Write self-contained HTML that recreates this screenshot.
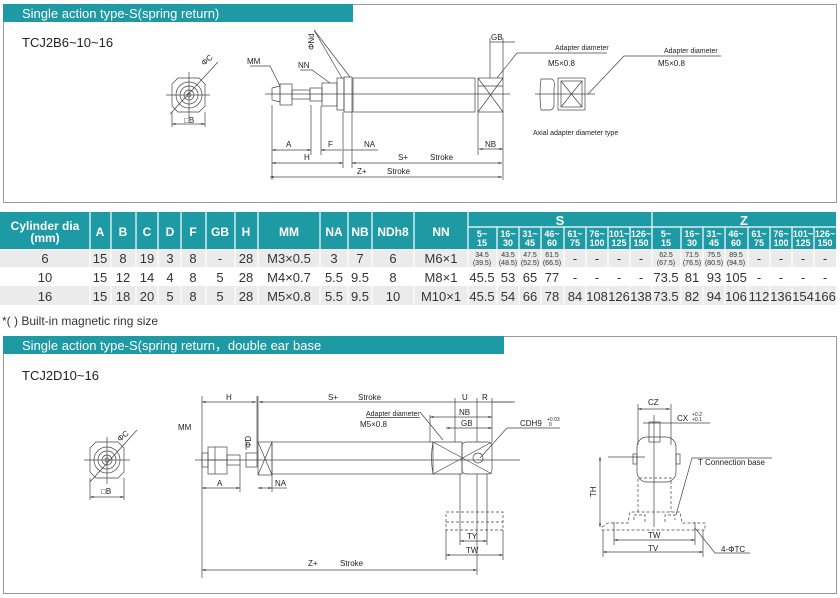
<!DOCTYPE html>
<html><head><meta charset="utf-8"><style>
html,body{margin:0;padding:0;background:#fff;}
svg{display:block;font-family:"Liberation Sans",Arial,sans-serif;}
</style></head><body>
<svg width="840" height="598" viewBox="0 0 840 598" xmlns="http://www.w3.org/2000/svg">
<defs>
<marker id="a" viewBox="0 0 10 10" refX="10" refY="5" markerWidth="5" markerHeight="5" orient="auto-start-reverse"><path d="M0,2 L10,5 L0,8 z" fill="#333"/></marker>
</defs>
<!-- Frame 1 -->
<rect x="3.5" y="4.5" width="833" height="198" fill="none" stroke="#999" stroke-width="1"/>
<rect x="3" y="4" width="350" height="18" fill="#1e9aa4"/>
<text x="22" y="18" font-size="13" fill="#fff">Single action type-S(spring return)</text>
<text x="22" y="47" font-size="13" fill="#222">TCJ2B6~10~16</text>

<g stroke="#444" stroke-width="0.7" fill="none">
<!-- end view top -->
<path d="M178,78 L199,78 L205,84 L205,106 L199,112 L178,112 L172,106 L172,84 Z"/>
<circle cx="189" cy="95" r="13"/><circle cx="189" cy="95" r="9"/><circle cx="189" cy="95" r="5"/><circle cx="189" cy="95" r="2"/>
<line x1="166" y1="95" x2="210" y2="95"/><line x1="189" y1="72" x2="189" y2="118"/>
<line x1="170" y1="114" x2="218" y2="62"/>
<line x1="172" y1="112" x2="172" y2="127"/><line x1="205" y1="112" x2="205" y2="127"/>
<line x1="172" y1="124" x2="205" y2="124" marker-start="url(#a)" marker-end="url(#a)"/>
<!-- rod top -->
<line x1="265" y1="94" x2="510" y2="94"/>
<path d="M272,88 L280,86 L280,102 L272,100 Z"/>
<rect x="280" y="84" width="12" height="21"/>
<rect x="292" y="90" width="18" height="9"/>
<rect x="310" y="88" width="12" height="13"/>
<rect x="322" y="83" width="15" height="23"/>
<rect x="337" y="78" width="7" height="32"/>
<rect x="344" y="77" width="8" height="35"/>
<rect x="353" y="78" width="122" height="34"/>
<rect x="478" y="78" width="25" height="34"/>
<line x1="478" y1="78" x2="503" y2="112"/><line x1="503" y1="78" x2="478" y2="112"/>
<line x1="478" y1="86" x2="503" y2="86"/>
<!-- leaders -->
<polyline points="250,66 270,66 280,86"/>
<polyline points="300,70 312,70 330,83"/>
<line x1="314" y1="30" x2="342" y2="78"/><line x1="314" y1="30" x2="350" y2="77"/>
<!-- dims top -->
<line x1="272" y1="105" x2="272" y2="180"/><line x1="311" y1="105" x2="311" y2="155"/>
<line x1="321" y1="106" x2="321" y2="155"/><line x1="343" y1="112" x2="343" y2="168"/>
<line x1="352" y1="112" x2="352" y2="168"/><line x1="503" y1="112" x2="503" y2="180"/>
<line x1="478" y1="112" x2="478" y2="155"/>
<line x1="272" y1="150" x2="311" y2="150" marker-start="url(#a)" marker-end="url(#a)"/>
<line x1="321" y1="150" x2="342" y2="150" marker-start="url(#a)"/>
<line x1="343" y1="150" x2="378" y2="150"/>
<line x1="272" y1="163" x2="343" y2="163" marker-start="url(#a)" marker-end="url(#a)"/>
<line x1="352" y1="163" x2="502" y2="163" marker-start="url(#a)" marker-end="url(#a)"/>
<line x1="270" y1="177" x2="502" y2="177" marker-start="url(#a)" marker-end="url(#a)"/>
<line x1="479" y1="149" x2="503" y2="149" marker-start="url(#a)" marker-end="url(#a)"/>
<line x1="490" y1="38" x2="490" y2="78"/><line x1="503" y1="38" x2="503" y2="78"/>
<line x1="490" y1="42" x2="515" y2="42"/>
<polyline points="497,78 517,53 607,53"/>
<!-- axial adapter -->
<line x1="535" y1="94" x2="595" y2="94"/>
<path d="M541,79 L552,79 Q556,82 554,88 L554,106 Q553,110 550,110 L541,110 Q539,95 541,79 Z"/>
<rect x="558" y="78" width="27" height="32"/><rect x="561" y="81" width="21" height="26"/>
<line x1="561" y1="81" x2="582" y2="107"/><line x1="582" y1="81" x2="561" y2="107"/>
<polyline points="588,94 624,56 721,56"/>
</g>
<g font-size="8" fill="#222">
<text x="247" y="64">MM</text><text x="298" y="68">NN</text>
<text x="314" y="50" transform="rotate(-90 314 50)">ΦNd</text>
<text x="286" y="147">A</text><text x="328" y="147">F</text><text x="364" y="147">NA</text>
<text x="304" y="160">H</text><text x="398" y="160">S+</text><text x="430" y="160">Stroke</text>
<text x="357" y="174">Z+</text><text x="387" y="174">Stroke</text>
<text x="485" y="147">NB</text><text x="491" y="40">GB</text>
<text x="204" y="66" transform="rotate(-40 204 66)">ΦC</text>
<text x="184" y="123">□B</text>
<text x="555" y="50" font-size="7">Adapter diameter</text>
<text x="548" y="66">M5×0.8</text>
<text x="664" y="53" font-size="7">Adapter diameter</text>
<text x="658" y="66">M5×0.8</text>
<text x="533" y="135" font-size="7">Axial adapter diameter type</text>
</g>

<!-- Table -->
<rect x="0" y="212" width="836" height="37" fill="#1e9aa4"/>
<rect x="0" y="249" width="836" height="18" fill="#ebebeb"/>
<rect x="0" y="286" width="836" height="19" fill="#ebebeb"/>
<g stroke="#fff" stroke-width="1.2">
<line x1="90" y1="212" x2="90" y2="305"/><line x1="111" y1="212" x2="111" y2="305"/>
<line x1="136" y1="212" x2="136" y2="305"/><line x1="158" y1="212" x2="158" y2="305"/>
<line x1="181" y1="212" x2="181" y2="305"/><line x1="206" y1="212" x2="206" y2="305"/>
<line x1="235" y1="212" x2="235" y2="305"/><line x1="258" y1="212" x2="258" y2="305"/>
<line x1="320" y1="212" x2="320" y2="305"/><line x1="348" y1="212" x2="348" y2="305"/>
<line x1="372" y1="212" x2="372" y2="305"/><line x1="414" y1="212" x2="414" y2="305"/>
<line x1="468" y1="212" x2="468" y2="305"/><line x1="652" y1="212" x2="652" y2="305"/>
<line x1="468" y1="227" x2="836" y2="227"/>
<line x1="497" y1="227" x2="497" y2="305"/><line x1="519" y1="227" x2="519" y2="305"/>
<line x1="541" y1="227" x2="541" y2="305"/><line x1="564" y1="227" x2="564" y2="305"/>
<line x1="586" y1="227" x2="586" y2="305"/><line x1="608" y1="227" x2="608" y2="305"/>
<line x1="630" y1="227" x2="630" y2="305"/>
<line x1="681" y1="227" x2="681" y2="305"/><line x1="703" y1="227" x2="703" y2="305"/>
<line x1="725" y1="227" x2="725" y2="305"/><line x1="748" y1="227" x2="748" y2="305"/>
<line x1="770" y1="227" x2="770" y2="305"/><line x1="792" y1="227" x2="792" y2="305"/>
<line x1="814" y1="227" x2="814" y2="305"/>
</g>
<g font-size="12" font-weight="bold" fill="#fff" text-anchor="middle">
<text x="45" y="230">Cylinder dia</text><text x="45" y="242">(mm)</text>
<text x="100" y="236">A</text><text x="123" y="236">B</text><text x="147" y="236">C</text>
<text x="170" y="236">D</text><text x="193" y="236">F</text><text x="220" y="236">GB</text>
<text x="246" y="236">H</text><text x="289" y="236">MM</text><text x="334" y="236">NA</text>
<text x="360" y="236">NB</text><text x="393" y="236">NDh8</text><text x="441" y="236">NN</text>
<text x="560" y="225" font-size="13">S</text><text x="744" y="225" font-size="13">Z</text>
</g>
<g font-size="9" font-weight="bold" fill="#fff" text-anchor="middle">
<text x="482" y="237">5~</text><text x="482" y="246">15</text>
<text x="508" y="237">16~</text><text x="508" y="246">30</text>
<text x="530" y="237">31~</text><text x="530" y="246">45</text>
<text x="552" y="237">46~</text><text x="552" y="246">60</text>
<text x="575" y="237">61~</text><text x="575" y="246">75</text>
<text x="597" y="237">76~</text><text x="597" y="246">100</text>
<text x="619" y="237">101~</text><text x="619" y="246">125</text>
<text x="641" y="237">126~</text><text x="641" y="246">150</text>
<text x="666" y="237">5~</text><text x="666" y="246">15</text>
<text x="692" y="237">16~</text><text x="692" y="246">30</text>
<text x="714" y="237">31~</text><text x="714" y="246">45</text>
<text x="736" y="237">46~</text><text x="736" y="246">60</text>
<text x="759" y="237">61~</text><text x="759" y="246">75</text>
<text x="781" y="237">76~</text><text x="781" y="246">100</text>
<text x="803" y="237">101~</text><text x="803" y="246">125</text>
<text x="825" y="237">126~</text><text x="825" y="246">150</text>
</g>
<g font-size="13" fill="#333" text-anchor="middle">
<text x="45" y="263">6</text><text x="100" y="263">15</text><text x="123" y="263">8</text><text x="147" y="263">19</text><text x="170" y="263">3</text><text x="193" y="263">8</text><text x="220" y="263">-</text><text x="246" y="263">28</text><text x="289" y="263">M3×0.5</text><text x="334" y="263">3</text><text x="360" y="263">7</text><text x="393" y="263">6</text><text x="441" y="263">M6×1</text>
<text x="575" y="263">-</text><text x="597" y="263">-</text><text x="619" y="263">-</text><text x="641" y="263">-</text>
<text x="759" y="263">-</text><text x="781" y="263">-</text><text x="803" y="263">-</text><text x="825" y="263">-</text>
<text x="45" y="282">10</text><text x="100" y="282">15</text><text x="123" y="282">12</text><text x="147" y="282">14</text><text x="170" y="282">4</text><text x="193" y="282">8</text><text x="220" y="282">5</text><text x="246" y="282">28</text><text x="289" y="282">M4×0.7</text><text x="334" y="282">5.5</text><text x="360" y="282">9.5</text><text x="393" y="282">8</text><text x="441" y="282">M8×1</text>
<text x="482" y="282">45.5</text><text x="508" y="282">53</text><text x="530" y="282">65</text><text x="552" y="282">77</text><text x="575" y="282">-</text><text x="597" y="282">-</text><text x="619" y="282">-</text><text x="641" y="282">-</text>
<text x="666" y="282">73.5</text><text x="692" y="282">81</text><text x="714" y="282">93</text><text x="736" y="282">105</text><text x="759" y="282">-</text><text x="781" y="282">-</text><text x="803" y="282">-</text><text x="825" y="282">-</text>
<text x="45" y="301">16</text><text x="100" y="301">15</text><text x="123" y="301">18</text><text x="147" y="301">20</text><text x="170" y="301">5</text><text x="193" y="301">8</text><text x="220" y="301">5</text><text x="246" y="301">28</text><text x="289" y="301">M5×0.8</text><text x="334" y="301">5.5</text><text x="360" y="301">9.5</text><text x="393" y="301">10</text><text x="441" y="301">M10×1</text>
<text x="482" y="301">45.5</text><text x="508" y="301">54</text><text x="530" y="301">66</text><text x="552" y="301">78</text><text x="575" y="301">84</text><text x="597" y="301">108</text><text x="619" y="301">126</text><text x="641" y="301">138</text>
<text x="666" y="301">73.5</text><text x="692" y="301">82</text><text x="714" y="301">94</text><text x="736" y="301">106</text><text x="759" y="301">112</text><text x="781" y="301">136</text><text x="803" y="301">154</text><text x="825" y="301">166</text>
</g>
<g font-size="7" fill="#333" text-anchor="middle">
<text x="482" y="257">34.5</text><text x="482" y="265">(39.5)</text>
<text x="508" y="257">43.5</text><text x="508" y="265">(48.5)</text>
<text x="530" y="257">47.5</text><text x="530" y="265">(52.5)</text>
<text x="552" y="257">61.5</text><text x="552" y="265">(66.5)</text>
<text x="666" y="257">62.5</text><text x="666" y="265">(67.5)</text>
<text x="692" y="257">71.5</text><text x="692" y="265">(76.5)</text>
<text x="714" y="257">75.5</text><text x="714" y="265">(80.5)</text>
<text x="736" y="257">89.5</text><text x="736" y="265">(94.5)</text>
</g>
<text x="2" y="325" font-size="12" fill="#333">*( ) Built-in magnetic ring size</text>

<!-- Frame 2 -->
<rect x="3.5" y="336.5" width="833" height="257" fill="none" stroke="#999" stroke-width="1"/>
<rect x="3" y="336" width="501" height="18" fill="#1e9aa4"/>
<text x="22" y="350" font-size="13" fill="#fff">Single action type-S(spring return，double ear base</text>
<text x="22" y="380" font-size="13" fill="#222">TCJ2D10~16</text>

<g stroke="#444" stroke-width="0.7" fill="none">
<!-- end view bottom -->
<path d="M96,442 L118,442 L124,448 L124,472 L118,478 L96,478 L90,472 L90,448 Z"/>
<circle cx="107" cy="460" r="13"/><circle cx="107" cy="460" r="9"/><circle cx="107" cy="460" r="5"/><circle cx="107" cy="460" r="2"/>
<line x1="84" y1="460" x2="130" y2="460"/><line x1="107" y1="437" x2="107" y2="484"/>
<line x1="90" y1="482" x2="137" y2="430"/>
<line x1="90" y1="478" x2="90" y2="500"/><line x1="124" y1="478" x2="124" y2="500"/>
<line x1="90" y1="497" x2="124" y2="497" marker-start="url(#a)" marker-end="url(#a)"/>
<!-- rod bottom -->
<line x1="195" y1="460" x2="520" y2="460"/>
<rect x="202" y="453" width="6" height="14"/>
<rect x="208" y="447" width="19" height="27"/>
<line x1="215" y1="447" x2="215" y2="474"/><line x1="208" y1="460" x2="227" y2="460"/>
<rect x="227" y="455" width="13" height="10"/>
<rect x="246" y="453" width="11" height="14"/>
<rect x="258" y="442" width="14" height="33"/>
<line x1="258" y1="442" x2="272" y2="475"/><line x1="272" y1="442" x2="258" y2="475"/>
<rect x="272" y="442" width="161" height="32"/>
<path d="M433,442 L462,442 L462,474 L433,474 Q430,458 433,442 Z"/>
<line x1="433" y1="442" x2="492" y2="474"/><line x1="433" y1="474" x2="492" y2="442"/>
<rect x="462" y="442" width="30" height="32" rx="4"/>
<circle cx="478" cy="458" r="5"/>
<!-- dims bottom -->
<line x1="202" y1="396" x2="202" y2="578"/><line x1="257" y1="396" x2="257" y2="453"/>
<line x1="258" y1="396" x2="258" y2="442"/>
<line x1="202" y1="402" x2="256" y2="402" marker-start="url(#a)" marker-end="url(#a)"/>
<line x1="259" y1="402" x2="512" y2="402" marker-start="url(#a)"/>
<line x1="492" y1="402" x2="515" y2="402"/>
<line x1="455" y1="398" x2="455" y2="442"/><line x1="477" y1="398" x2="477" y2="442"/>
<line x1="492" y1="398" x2="492" y2="442"/>
<line x1="430" y1="417" x2="492" y2="417" marker-start="url(#a)" marker-end="url(#a)"/>
<line x1="446" y1="428" x2="492" y2="428" marker-start="url(#a)" marker-end="url(#a)"/>
<line x1="430" y1="415" x2="430" y2="442"/>
<polyline points="420,412 443,440"/>
<polyline points="480,458 507,428 560,428"/>
<line x1="240" y1="465" x2="240" y2="492"/><line x1="272" y1="475" x2="272" y2="492"/>
<line x1="202" y1="488" x2="240" y2="488" marker-start="url(#a)" marker-end="url(#a)"/>
<line x1="258" y1="488" x2="272" y2="488" marker-start="url(#a)" marker-end="url(#a)"/>
<line x1="272" y1="488" x2="287" y2="488"/>
<line x1="202" y1="570" x2="477" y2="570" marker-start="url(#a)" marker-end="url(#a)"/>
<line x1="477" y1="474" x2="477" y2="575"/>
<line x1="460" y1="474" x2="460" y2="545"/><line x1="487" y1="474" x2="487" y2="545"/>
<line x1="446" y1="530" x2="446" y2="560"/><line x1="503" y1="530" x2="503" y2="560"/>
<line x1="460" y1="541" x2="487" y2="541" marker-start="url(#a)" marker-end="url(#a)"/>
<line x1="446" y1="555" x2="503" y2="555" marker-start="url(#a)" marker-end="url(#a)"/>
<g stroke-dasharray="3,2">
<rect x="446" y="512" width="57" height="18"/><line x1="446" y1="522" x2="503" y2="522"/>
</g>
<line x1="246" y1="440" x2="246" y2="450"/>
<!-- right view -->
<line x1="638" y1="404" x2="638" y2="445"/><line x1="671" y1="404" x2="671" y2="445"/>
<line x1="638" y1="409" x2="670" y2="409" marker-start="url(#a)" marker-end="url(#a)"/>
<rect x="649" y="422" width="11" height="20"/>
<line x1="643" y1="423" x2="710" y2="423"/>
<rect x="637" y="437" width="39" height="45" rx="10"/>
<rect x="633" y="454" width="4" height="10"/><rect x="676" y="454" width="4" height="10"/>
<line x1="654" y1="415" x2="654" y2="527"/>
<line x1="608" y1="457" x2="645" y2="457"/>
<g stroke-dasharray="3,2">
<polyline points="638,512 638,478 671,478 671,512"/>
<path d="M602,527 L608,523 L628,523 L630,512 L680,512 L682,523 L705,523 L705,530 L602,530 Z"/>
<path d="M634,520 L634,515 L645,515 L645,522 M665,522 L665,515 L675,515 L675,520"/>
</g>
<line x1="600" y1="457" x2="600" y2="527" marker-start="url(#a)" marker-end="url(#a)"/>
<line x1="603" y1="530" x2="603" y2="557"/><line x1="703" y1="530" x2="703" y2="557"/>
<line x1="614" y1="522" x2="614" y2="545"/><line x1="695" y1="522" x2="695" y2="545"/>
<line x1="614" y1="540" x2="695" y2="540" marker-start="url(#a)" marker-end="url(#a)"/>
<line x1="603" y1="552" x2="703" y2="552" marker-start="url(#a)" marker-end="url(#a)"/>
<polyline points="676,515 692,458 772,458"/>
<polyline points="695,528 715,553 750,553"/>
</g>
<g font-size="8" fill="#222">
<text x="178" y="430">MM</text>
<text x="251" y="448" transform="rotate(-90 251 448)">ΦD</text>
<text x="226" y="400">H</text><text x="328" y="400">S+</text><text x="358" y="400">Stroke</text>
<text x="462" y="400">U</text><text x="482" y="400">R</text>
<text x="459" y="415">NB</text><text x="461" y="426">GB</text>
<text x="366" y="416" font-size="7" text-decoration="underline">Adapter diameter</text>
<text x="360" y="427">M5×0.8</text>
<text x="520" y="426">CDH9</text><text x="547" y="421" font-size="5">+0.03</text><text x="549" y="426" font-size="5">0</text>
<text x="217" y="486">A</text><text x="275" y="486">NA</text>
<text x="308" y="566">Z+</text><text x="340" y="566">Stroke</text>
<text x="467" y="539">TY</text><text x="466" y="553">TW</text>
<text x="120" y="442" transform="rotate(-40 120 442)">ΦC</text>
<text x="101" y="494">□B</text>
<text x="648" y="405">CZ</text>
<text x="677" y="421">CX</text><text x="692" y="416" font-size="5">+0.2</text><text x="692" y="421" font-size="5">+0.1</text>
<text x="698" y="465">T Connection base</text>
<text x="596" y="497" transform="rotate(-90 596 497)">TH</text>
<text x="648" y="538">TW</text><text x="648" y="551">TV</text>
<text x="721" y="552">4-ΦTC</text>
</g>
</svg>
</body></html>
